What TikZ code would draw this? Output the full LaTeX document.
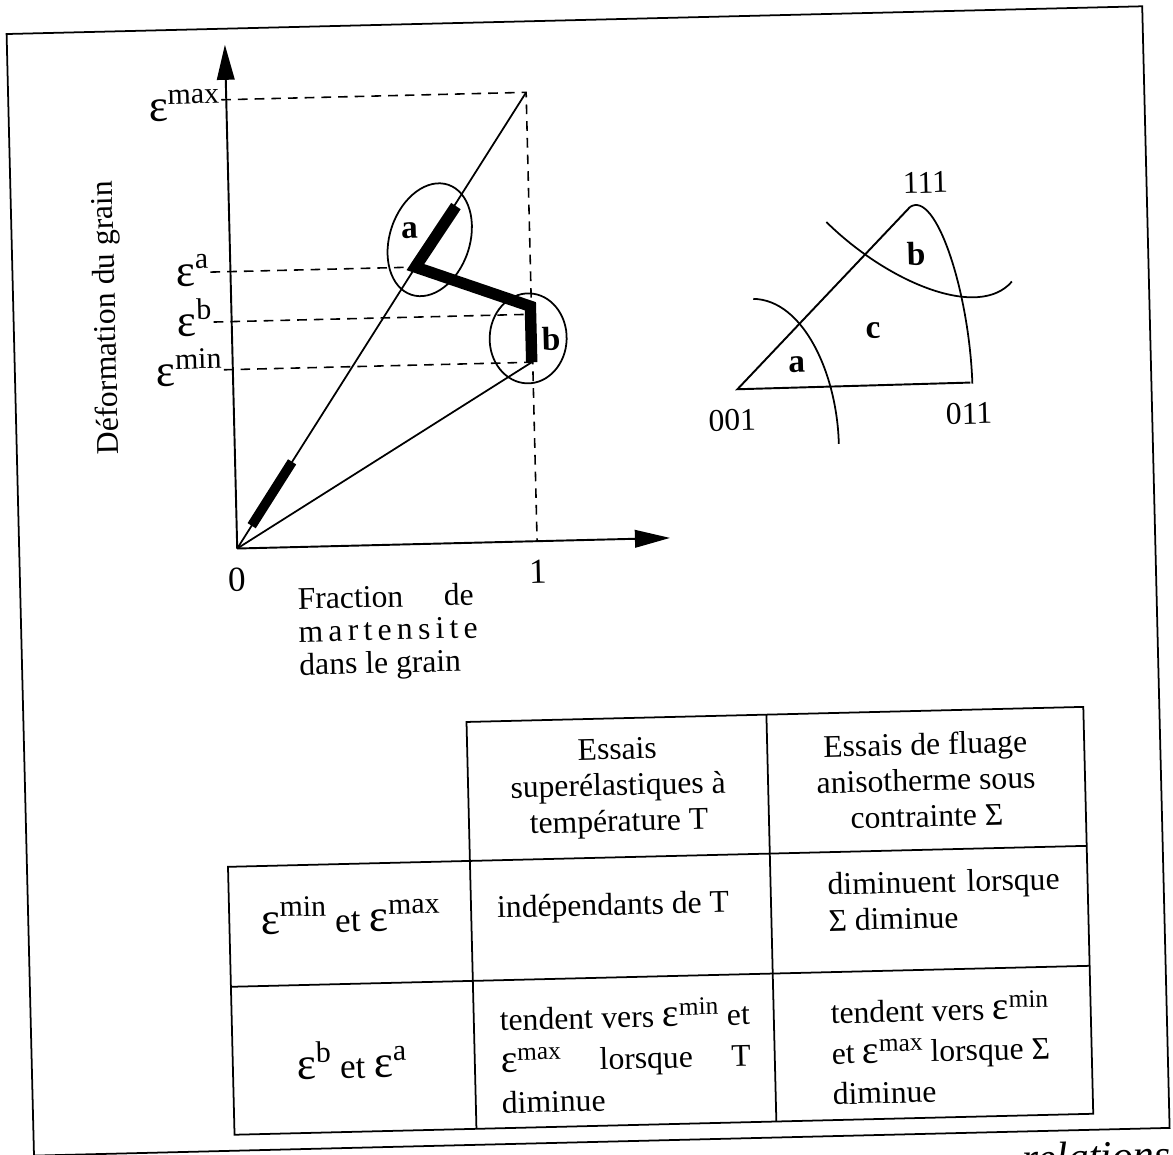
\documentclass[tikz,border=0pt]{standalone}
\usepackage{fontspec}
\setmainfont{Liberation Serif}
\usepackage{graphicx}
\usetikzlibrary{arrows.meta,calc}
\newcommand{\epsup}[1]{\scalebox{1.3}{ε}\raisebox{0.48em}{\scalebox{0.85}{#1}}}
\newcommand{\epscell}[1]{\scalebox{1.25}{ε}\raisebox{0.36em}{\scalebox{0.8}{#1}}}

\begin{document}
\begin{tikzpicture}[x=0.02cm, y=-0.02cm,
    every node/.style={font=\fontsize{18}{20.5}\selectfont, inner sep=1pt},
    thin line/.style={line width=1pt},
    dash line/.style={line width=0.9pt, dash pattern=on 5.5pt off 4pt},
    heavy/.style={line width=6.5pt},
    axis arrow/.style={line width=1.1pt, -{Triangle[length=20pt,width=10pt]}},
    eps lbl/.style={anchor=east, font=\fontsize{20}{20}\selectfont},
    bold lbl/.style={font=\fontsize{19}{20}\selectfont\bfseries},
    row lbl/.style={font=\fontsize{20}{22}\selectfont}]
  \useasboundingbox (0,0) rectangle (1173,1154);
  \clip (0,0) rectangle (1173,1154);
  \begin{scope}[rotate around={1.4:(586,577)}, transform shape]
    % cadre
    \draw[thin line] (20,20) rectangle (1156,1142);

    % courbe deformation / fraction
    \coordinate (O) at (238,540);
    \coordinate (Ytop) at (238,36);
    \coordinate (Xend) at (671,540);
    \coordinate (Pmax) at (538,91);
    \coordinate (Pt) at (465,203);
    \coordinate (Pa) at (423,263);
    \coordinate (Pb) at (537,305);
    \coordinate (Pmin) at (537,361);
    \coordinate (X1) at (538,540);
    \draw[axis arrow] (O) -- (Ytop);
    \draw[axis arrow] (O) -- (Xend);
    \node[eps lbl] (Lmax) at (233,96) {\epsup{max}};
    \node[eps lbl] (La) at (218,261) {\epsup{a}};
    \node[eps lbl] (Lb) at (220,308) {\epsup{b}};
    \node[eps lbl] (Lmin) at (229,358) {\epsup{min}};
    \draw[dash line] (Lmax.east |- Pmax) -- (Pmax) -- (X1);
    \draw[dash line] (La.east |- Pa) -- (Pa);
    \draw[dash line] (Lb.east |- 0,313) -- (Pb |- 0,313);
    \draw[dash line] (Lmin.east |- Pmin) -- (Pmin);
    \draw[thin line] (O) -- (Pmax);
    \draw[thin line] (O) -- (Pmin);
    \draw[heavy] (Pt) -- (Pa) -- (Pb) -- (Pmin);
    \draw[line width=5.5pt] ($(O)!0.05!(Pmax)$) -- ($(O)!0.19!(Pmax)$);
    \draw[thin line, rotate around={-20:(438,236)}] (438,236) ellipse [x radius=40, y radius=58];
    \draw[thin line, rotate around={-3:(534,337)}] (534,337) ellipse [x radius=38.5, y radius=45];
    \node[bold lbl] (Ea) at (418,226) {a};
    \node[bold lbl] (Eb) at (557,338) {b};
    \node[font=\fontsize{20}{20}\selectfont] (N0) at (237,571) {0};
    \node[font=\fontsize{20}{20}\selectfont] (N1) at (538,571) {1};
    \node[anchor=north west, align=left, inner sep=0,
          font=\fontsize{18}{18.7}\selectfont] (Xlbl) at (297,580)
          {\makebox[3.52cm][s]{Fraction de}\\
           \makebox[3.52cm][s]{m a r t e n s i t e}\\
           dans le grain};
    \node[rotate=90] (Ylbl) at (114,306) {Déformation du grain};

    % triangle standard
    \coordinate (T001) at (742,393);
    \coordinate (T011) at (975,392);
    \coordinate (T111) at (919,215);
    \draw[line width=1.1pt] (T011) -- (T001) -- (T111);
    \draw[thin line] (T111) .. controls (945,198) and (976,300) .. (977,393);
    \draw[thin line] (760,303) .. controls (810,305) and (842,380) .. (842,450);
    \draw[thin line] (835,228) .. controls (895,290) and (985,330) .. (1019,292);
    \node (N111) at (935,191) {111};
    \node (N001) at (736,424) {001};
    \node (N011) at (973,423) {011};
    \node[bold lbl] (Za) at (802,370) {a};
    \node[bold lbl] (Zb) at (924,262) {b};
    \node[bold lbl] (Zc) at (879,338) {c};

    % tableau
    \draw[thin line] (463,858) -- (463,719) -- (1080,719) -- (1080,1126)
          -- (221,1126) -- (221,858) -- (1080,858);
    \draw[thin line] (221,978) -- (1080,978);
    \draw[thin line] (463,858) -- (463,1126);
    \draw[thin line] (763,719) -- (763,1126);
    \node[align=center] (H1) at (613,789) {Essais\\superélastiques à\\température T};
    \node[align=center] (H2) at (921,788) {Essais de fluage\\anisotherme sous\\contrainte Σ};
    \node[row lbl] (R1) at (342,908) {\epsup{min} et \epsup{max}};
    \node[row lbl] (R2) at (340,1054) {\epsup{b} et \epsup{a}};
    \node[anchor=west] (C11) at (487,908) {indépendants de T};
    \node[anchor=west, align=left] (C12) at (818,908)
          {\makebox[4.64cm][s]{diminuent lorsque}\\Σ diminue};
    \node[anchor=west, align=left, font=\fontsize{18}{23.5}\selectfont] (C21) at (487,1056)
          {\makebox[5cm][s]{tendent vers \epscell{min} et}\\
           \makebox[5cm][s]{\epscell{max} lorsque T}\\diminue};
    \node[anchor=west, align=left, font=\fontsize{18}{23}\selectfont] (C22) at (818,1056)
          {tendent vers \epscell{min}\\et \epscell{max} lorsque Σ\\diminue};
    \node[anchor=base west, font=\fontsize{24}{24}\selectfont\itshape] (Cap) at (1006,1183) {relations};
  \end{scope}
\end{tikzpicture}
\end{document}
